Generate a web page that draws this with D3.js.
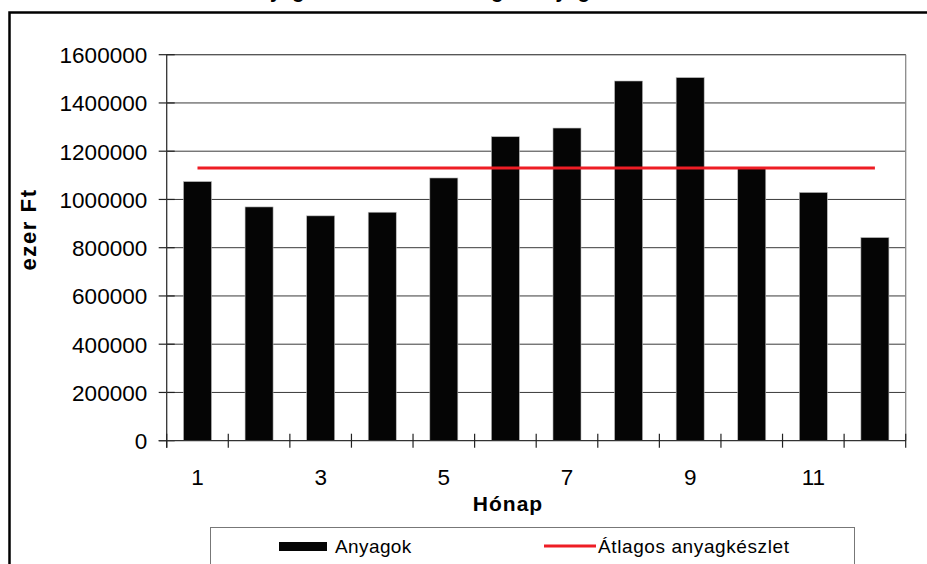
<!DOCTYPE html>
<html>
<head>
<meta charset="utf-8">
<script src="https://cdn.jsdelivr.net/npm/d3@7"></script>
<style>
  html, body { margin: 0; padding: 0; background: #fff; }
  svg { display: block; }
  text { font-family: "Liberation Sans", Arial, sans-serif; fill: #000; }
</style>
</head>
<body>
<svg id="chart" width="927" height="564"></svg>
<script>
// ---- data ----
const months = [1, 2, 3, 4, 5, 6, 7, 8, 9, 10, 11, 12];
const anyagok = [1074000, 969000, 932000, 947000, 1089000, 1260000, 1296000, 1491000, 1505000, 1128000, 1029000, 842000];
const atlagos = [1130000, 1130000, 1130000, 1130000, 1130000, 1130000, 1130000, 1130000, 1130000, 1130000, 1130000, 1130000];
const yTicks = [0, 200000, 400000, 600000, 800000, 1000000, 1200000, 1400000, 1600000];
const xTickLabels = [1, 3, 5, 7, 9, 11];
const titleText = "Anyagfelhasználás és átlagos anyagkészlet";
const seriesNames = ["Anyagok", "Átlagos anyagkészlet"];
const xTitle = "Hónap";
const yTitle = "ezer Ft";

// ---- layout ----
const svg = d3.select("#chart");
const L = 166.7, R = 905.7, T = 54.7, B = 440.7;

const x = d3.scaleBand().domain(months).range([L, R]).paddingInner(0.545).paddingOuter(0.2725);
const xl = d3.scaleLinear().domain([0, months.length]).range([L, R]);
const y = d3.scaleLinear().domain([0, 1600000]).range([B, T]);

// title (mostly cut off at top, as in the reference)
svg.append("text").attr("x", 450).attr("y", -2).attr("text-anchor", "middle")
  .attr("font-size", 20).attr("font-weight", "bold").text(titleText);

// outer frame
svg.append("rect").attr("x", 9.5).attr("y", 12.5).attr("width", 940).attr("height", 580)
  .attr("fill", "none").attr("stroke", "#000").attr("stroke-width", 2.5);

// gridlines
svg.append("g").selectAll("line").data(yTicks.filter(d => d > 0)).join("line")
  .attr("x1", L).attr("x2", R).attr("y1", d => y(d)).attr("y2", d => y(d))
  .attr("stroke", "#3a3a3a").attr("stroke-width", 1);

// plot area border (right side, gray)
svg.append("line").attr("x1", R).attr("x2", R).attr("y1", T).attr("y2", B)
  .attr("stroke", "#8a8a8a").attr("stroke-width", 1.3);
svg.append("line").attr("x1", L).attr("x2", R).attr("y1", T).attr("y2", T)
  .attr("stroke", "#555").attr("stroke-width", 1);

// bars
svg.append("g").selectAll("rect").data(months).join("rect")
  .attr("x", d => x(d)).attr("width", x.bandwidth())
  .attr("y", (d, i) => y(anyagok[i])).attr("height", (d, i) => B - y(anyagok[i]))
  .attr("fill", "#050505").attr("stroke", "#bbb").attr("stroke-width", 0.6);

// average line
const line = d3.line().x((d, i) => x(months[i]) + x.bandwidth() / 2).y(d => y(d));
svg.append("path").datum(atlagos).attr("d", line)
  .attr("fill", "none").attr("stroke", "#ee1d25").attr("stroke-width", 3);

// y axis
const yAxis = d3.axisLeft(y).tickValues(yTicks).tickSize(0).tickFormat(d3.format("d")).tickPadding(0);
const gy = svg.append("g").attr("transform", `translate(${L},0)`).call(yAxis);
gy.select(".domain").remove();
gy.selectAll("text").attr("x", -19.5).attr("dy", "0.35em").attr("font-size", 22.5)
  .attr("font-family", "Liberation Sans, Arial, sans-serif").attr("fill", "#000");
svg.append("g").selectAll("line").data(yTicks).join("line")
  .attr("x1", L - 8).attr("x2", L + 8).attr("y1", d => y(d)).attr("y2", d => y(d))
  .attr("stroke", "#222").attr("stroke-width", 1.2);
svg.append("line").attr("x1", L).attr("x2", L).attr("y1", T).attr("y2", B + 7)
  .attr("stroke", "#333").attr("stroke-width", 1.3);

// x axis
svg.append("line").attr("x1", L - 8).attr("x2", R).attr("y1", B).attr("y2", B)
  .attr("stroke", "#333").attr("stroke-width", 1.3);
svg.append("g").selectAll("line").data(d3.range(months.length + 1)).join("line")
  .attr("x1", d => xl(d)).attr("x2", d => xl(d)).attr("y1", B - 7).attr("y2", B + 7)
  .attr("stroke", "#222").attr("stroke-width", 1.2);
svg.append("g").selectAll("text").data(xTickLabels).join("text")
  .attr("x", d => x(d) + x.bandwidth() / 2).attr("y", 484.5)
  .attr("text-anchor", "middle").attr("font-size", 22.5).text(d => d);

// axis titles
svg.append("text").attr("x", 508).attr("y", 511).attr("text-anchor", "middle")
  .attr("font-size", 21).attr("font-weight", "bold").attr("letter-spacing", 1).text(xTitle);
svg.append("text").attr("transform", "translate(35.5,229.5) rotate(-90)").attr("text-anchor", "middle")
  .attr("font-size", 22).attr("font-weight", "bold").attr("letter-spacing", 1.6).text(yTitle);

// legend
svg.append("rect").attr("x", 210.5).attr("y", 527.5).attr("width", 644).attr("height", 60)
  .attr("fill", "#fff").attr("stroke", "#777").attr("stroke-width", 1);
svg.append("rect").attr("x", 279).attr("y", 542).attr("width", 48).attr("height", 9).attr("fill", "#050505");
svg.append("text").attr("x", 335).attr("y", 552.5).attr("font-size", 19).attr("letter-spacing", 0.4).text(seriesNames[0]);
svg.append("line").attr("x1", 544).attr("x2", 596).attr("y1", 546).attr("y2", 546)
  .attr("stroke", "#ee1d25").attr("stroke-width", 3);
svg.append("text").attr("x", 598).attr("y", 552.5).attr("font-size", 19).attr("letter-spacing", 0.6).text(seriesNames[1]);
</script>
</body>
</html>
